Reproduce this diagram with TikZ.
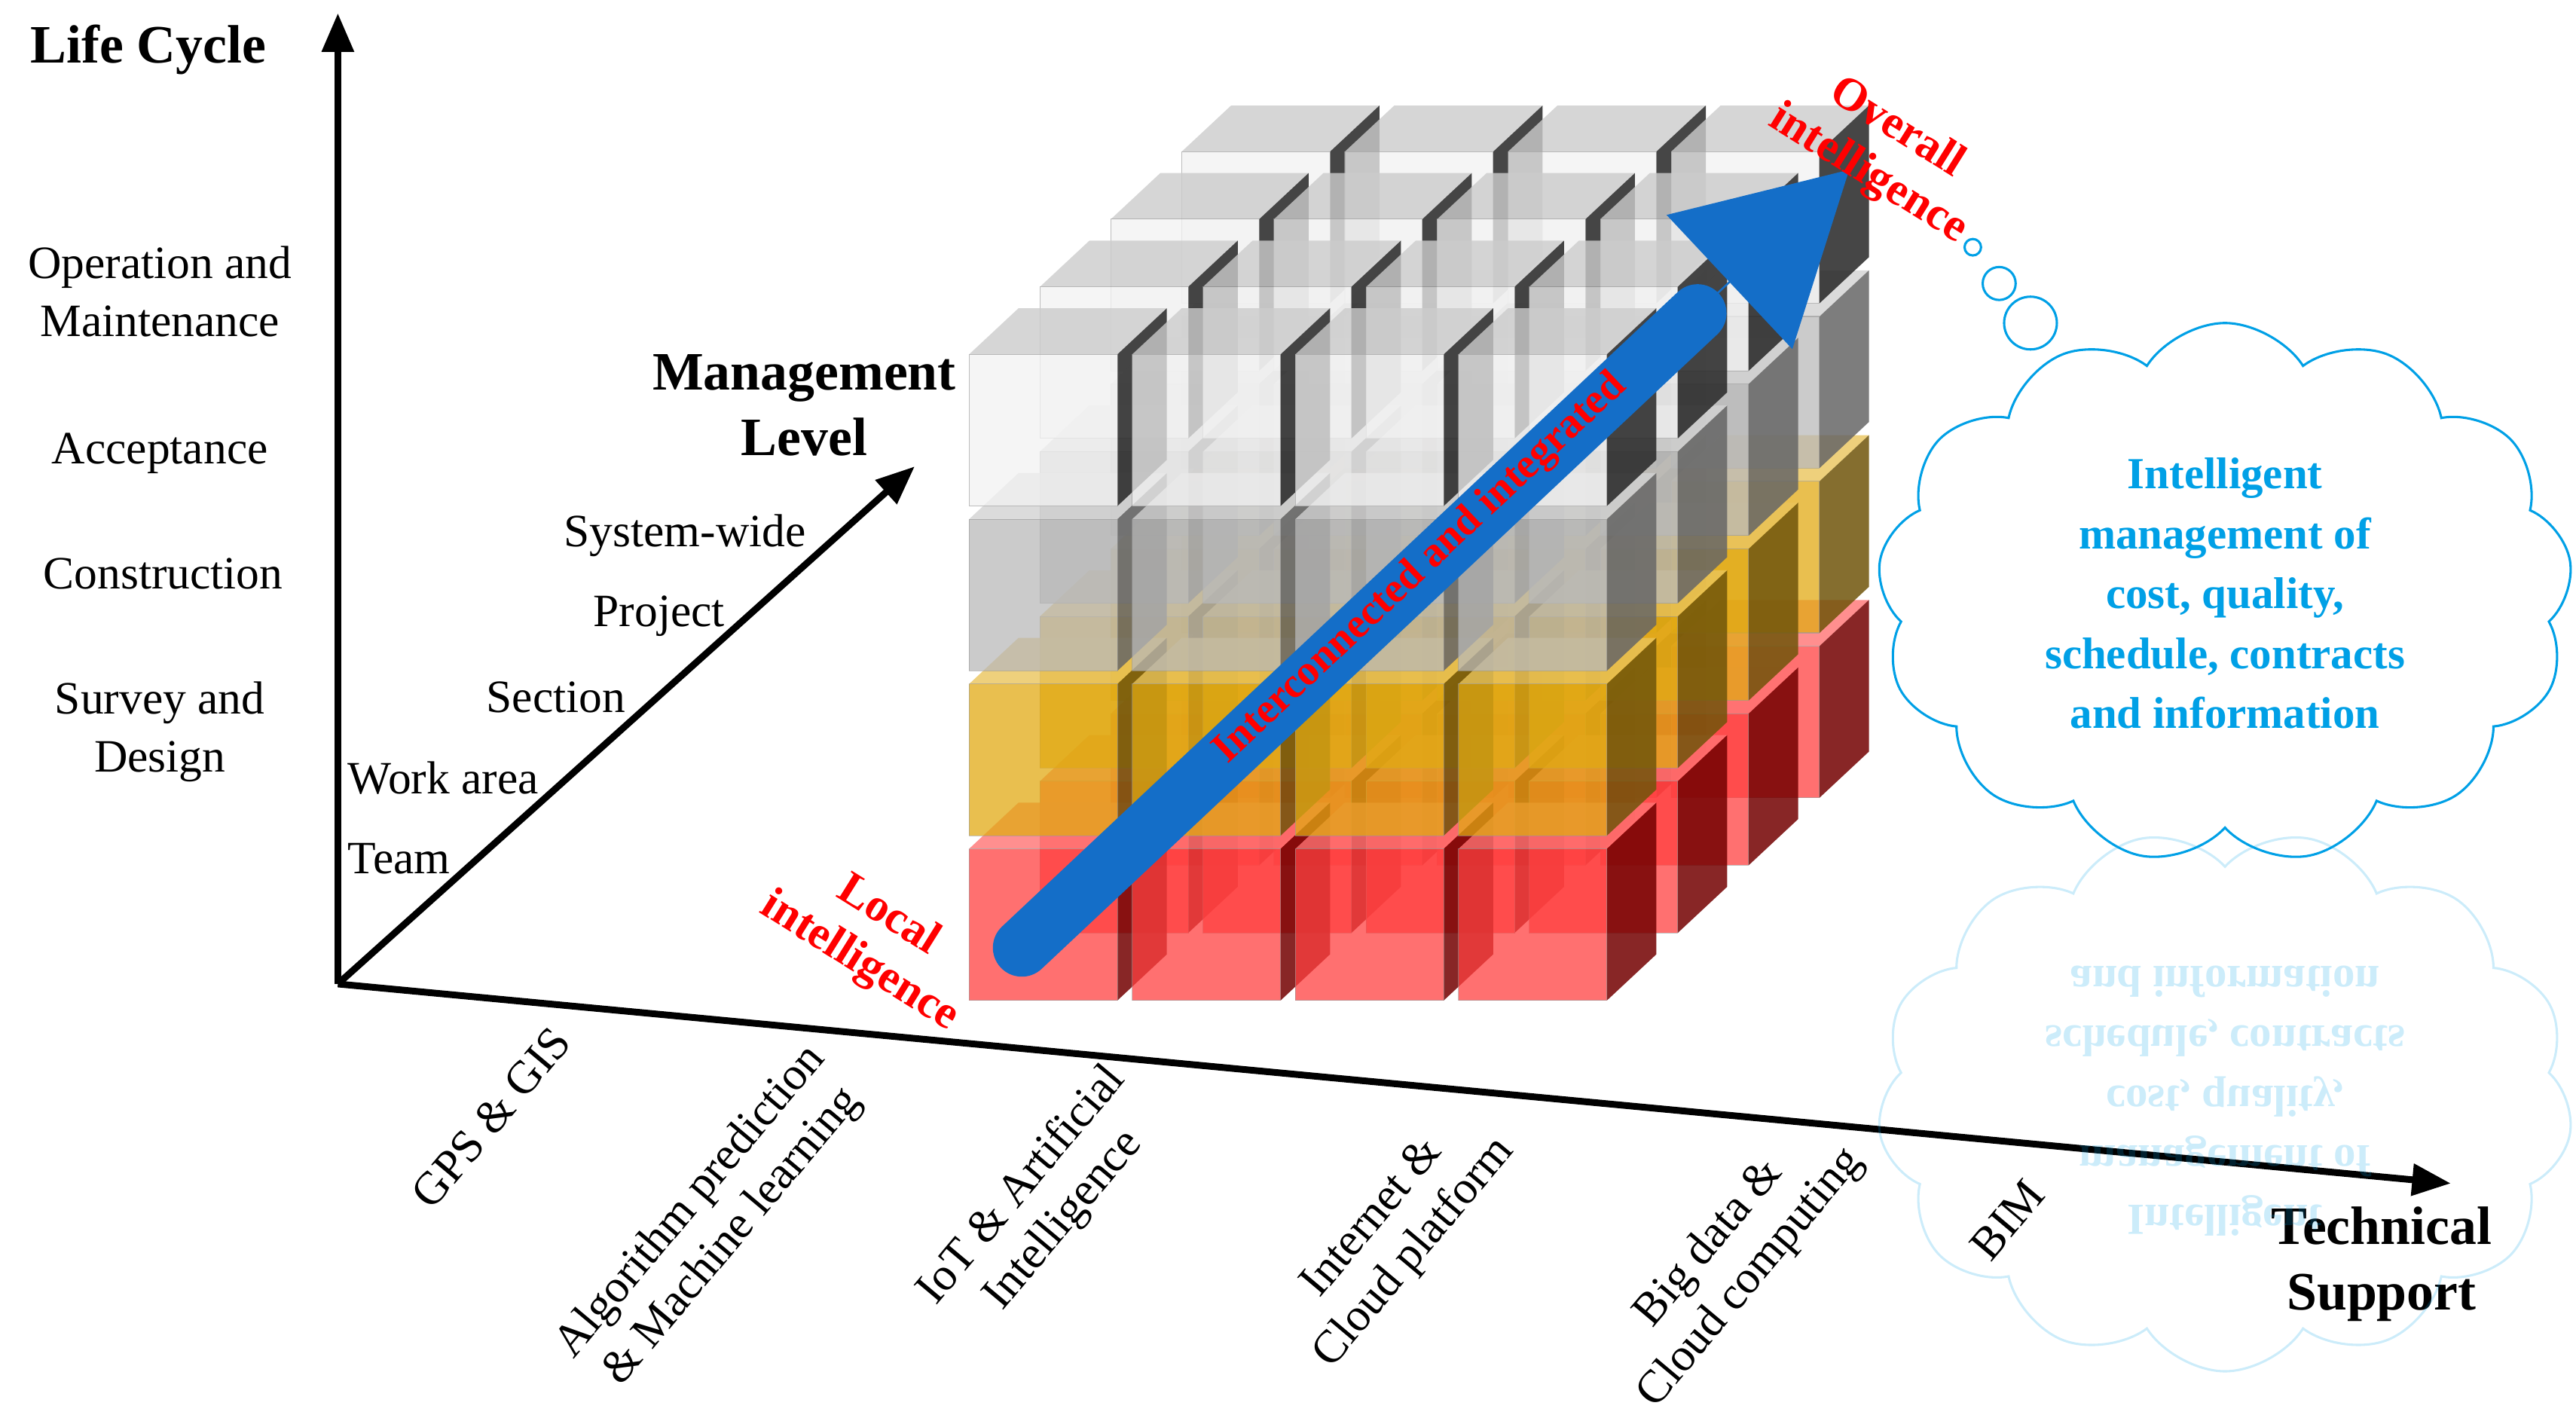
\documentclass[tikz,border=0pt]{standalone}
\usepackage{fontspec}
\setmainfont{Liberation Serif}
\usetikzlibrary{shapes.symbols,arrows.meta}
\definecolor{cy}{RGB}{0,160,230}
\definecolor{ylw}{RGB}{225,170,20}
\definecolor{blu}{RGB}{20,110,200}
\tikzset{
 lab/.style={font=\fontsize{24}{30}\selectfont,align=center},
 tlab/.style={font=\fontsize{24}{28}\selectfont,align=center,rotate=50},
 ttl/.style={font=\fontsize{28}{34}\selectfont\bfseries,align=center},
 axis/.style={line width=3.5pt,-{Triangle[length=20pt,width=16pt]}},
 redt/.style={font=\fontsize{24}{28}\selectfont\bfseries,text=red,align=center},
 cl/.style={cloud,draw=cy,line width=1.2pt,cloud puffs=13,cloud puff arc=115,aspect=1.35,minimum width=360,minimum height=280,text=cy,font=\fontsize{23}{31}\selectfont\bfseries,align=center,inner sep=0pt},
}
\newcommand{\mycube}[5]{% x y front side top
 \fill[#3,fill opacity=.75] (#1,#2) rectangle ++(90,-92);
 \fill[#5,fill opacity=.8] (#1,#2-92) -- ++(30,-28) -- ++(90,0) -- ++(-30,28) -- cycle;
 \fill[#4,fill opacity=.85] (#1+90,#2) -- ++(30,-28) -- ++(0,-92) -- ++(-30,28) -- cycle;
 \draw[black!40,line width=.4pt,opacity=.6] (#1,#2) rectangle ++(90,-92);
}
\begin{document}
\begin{tikzpicture}[x=0.03cm,y=-0.03cm]
\useasboundingbox (0,0) rectangle (1563,860);
% cubes
\foreach \l/\fc/\sc/\tc in {0/red!75/red!45!black/red!55,1/ylw/ylw!50!black/ylw!70,2/gray!55/black!60/gray!35,3/white!95!black/black!85/gray!40}{
 \foreach \r in {3,2,1,0}{
  \foreach \c in {0,1,2,3}{
   \pgfmathsetmacro\xx{588+99*\c+43*\r}
   \pgfmathsetmacro\yy{607-100*\l-41*\r}
   \mycube{\xx}{\yy}{\fc}{\sc}{\tc}
  }}}
% axes
\coordinate (o) at (205,597);
\coordinate (yend) at (205,8);
\coordinate (zend) at (555,283);
\coordinate (xend) at (1487,718);
\draw[axis] (o) -- (yend);
\draw[axis] (o) -- (zend);
\draw[axis] (o) -- (xend);
% big arrow
\coordinate (a1) at (620,575);
\coordinate (a2) at (1122,103);
\draw[blu,line width=30pt,line cap=round] (a1) -- (1030,190);
\draw[blu,line width=1pt,-{Triangle[length=85pt,width=95pt]}] (1010,208) -- (a2);
\node[redt,rotate=43.3,font=\fontsize{22}{24}\selectfont\bfseries] (ii) at (862,345) {Interconnected and integrated};
% labels
\node[ttl] (lc) at (90,30) {Life Cycle};
\node[lab] (l1) at (97,177) {Operation and\\Maintenance};
\node[lab] (l2) at (97,275) {Acceptance};
\node[lab] (l3) at (99,348) {Construction};
\node[lab] (l4) at (97,444) {Survey and\\Design};
\node[ttl,anchor=center] (ml) at (488,246) {Management\\Level};
\node[lab,anchor=west] (m1) at (338,325) {System-wide};
\node[lab,anchor=west] (m2) at (356,374) {Project};
\node[lab,anchor=west] (m3) at (291,423) {Section};
\node[lab,anchor=west] (m4) at (207,472) {Work area};
\node[lab,anchor=west] (m5) at (207,521) {Team};
\node[ttl] (ts) at (1445,767) {Technical\\Support};
\node[tlab] (t1) at (298,678) {GPS \& GIS};
\node[tlab] (t2) at (432,740) {Algorithm prediction\\\& Machine learning};
\node[tlab] (t3) at (633,730) {IoT \& Artificial\\Intelligence};
\node[tlab] (t4) at (846,750) {Internet \&\\Cloud platform};
\node[tlab] (t5) at (1050,765) {Big data \&\\Cloud computing};
\node[tlab] (t6) at (1218,740) {BIM};
\node[redt,rotate=-32] (oi) at (1142,92) {Overall\\intelligence};
\node[redt,rotate=-32] (li) at (530,570) {Local\\intelligence};
% cloud
\node[cl,fill=white] (c1) at (1350,360) {Intelligent\\management of\\cost, quality,\\schedule, contracts\\and information};
\draw[cy,line width=1.2pt] (1197,150) circle (5);
\draw[cy,line width=1.2pt] (1213,172) circle (10);
\draw[cy,line width=1.2pt] (1232,196) circle (16);
% reflection
\begin{scope}[opacity=.2,transparency group]
\node[cl,yscale=-1] (cr) at (1350,668) {Intelligent\\management of\\cost, quality,\\schedule, contracts\\and information};
\end{scope}
\end{tikzpicture}
\end{document}
